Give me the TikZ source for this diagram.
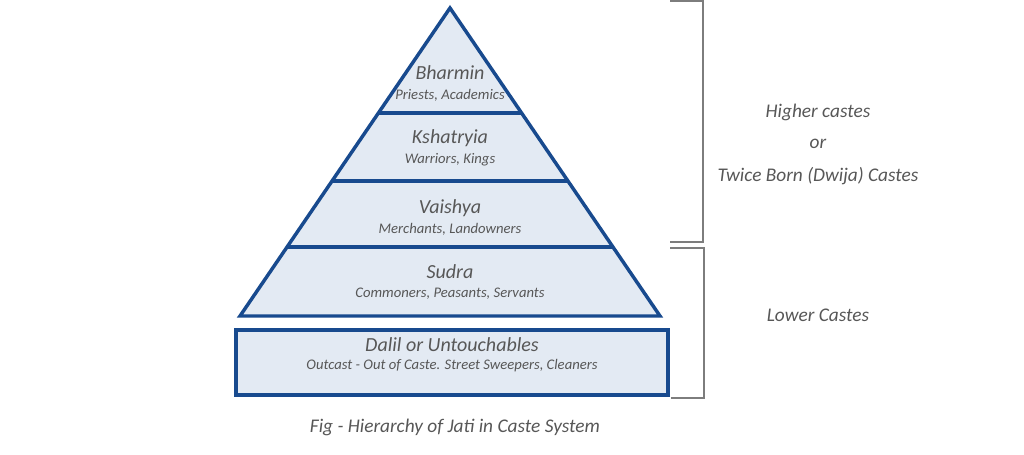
\documentclass[tikz,border=0pt]{standalone}
\usepackage{fontspec}
\setmainfont{Carlito}
\usetikzlibrary{calc,positioning}
\definecolor{layerFill}{RGB}{227,234,243}
\definecolor{layerStroke}{RGB}{24,74,142}
\definecolor{bracketStroke}{RGB}{125,125,125}
\colorlet{ink}{black!66}
\tikzset{
  layer/.style={draw=layerStroke, fill=layerFill, line width=2.6pt, line join=miter},
  divider/.style={draw=layerStroke, line width=2.6pt},
  caste/.style={font=\itshape\fontsize{15}{18}\selectfont, text=ink, inner sep=0pt},
  role/.style={font=\itshape\fontsize{11}{13}\selectfont, text=ink, inner sep=0pt},
  group/.style={font=\itshape\fontsize{14.5}{17}\selectfont, text=ink, inner sep=0pt, align=center},
  bracket/.style={draw=bracketStroke, line width=1.1pt}
}

\begin{document}
\begin{tikzpicture}[x=0.75pt,y=-0.75pt]
  \useasboundingbox (0,0) rectangle (1024,454);

  % pyramid
  \coordinate (apex) at (450,8);
  \coordinate (baseL) at (240,316);
  \coordinate (baseR) at (660,316);
  \draw[layer] (apex) -- (baseL) -- (baseR) -- cycle;
  \foreach \f/\n in {0.341/one, 0.562/two, 0.776/three} {
    \draw[divider] ($(apex)!\f!(baseL)$) coordinate (L\n) -- ($(apex)!\f!(baseR)$) coordinate (R\n);
  }

  % outcasts box
  \draw[layer] (236,330) rectangle (668,395);

  \node[caste] (bharmin) at (450,73) {Bharmin};
  \node[role] (priests) at (450,95) {Priests, Academics};
  \node[caste] (kshatryia) at (450,138) {Kshatryia};
  \node[role] (warriors) at (450,160) {Warriors, Kings};
  \node[caste] (vaishya) at (450,208) {Vaishya};
  \node[role] (merchants) at (450,229) {Merchants, Landowners};
  \node[caste] (sudra) at (450,272) {Sudra};
  \node[role] (commoners) at (450,294) {Commoners, Peasants, Servants};
  \node[caste] (dalil) at (452,345) {Dalil or Untouchables};
  \node[role] (outcast) at (452,366) {Outcast - Out of Caste. Street Sweepers, Cleaners};

  % brackets
  \draw[bracket] (670,1) -| (703,242) -- (670,242);
  \draw[bracket] (670,248) -| (704,398) -- (671,398);

  \node[group] (higher) at (818,112) {Higher castes};
  \node[group] (ortext) at (818,144) {or};
  \node[group] (twice) at (818,176) {Twice Born (Dwija) Castes};
  \node[group] (lower) at (818,315) {Lower Castes};

  \node[group] (caption) at (455,427) {Fig - Hierarchy of Jati in Caste System};
\end{tikzpicture}
\end{document}
